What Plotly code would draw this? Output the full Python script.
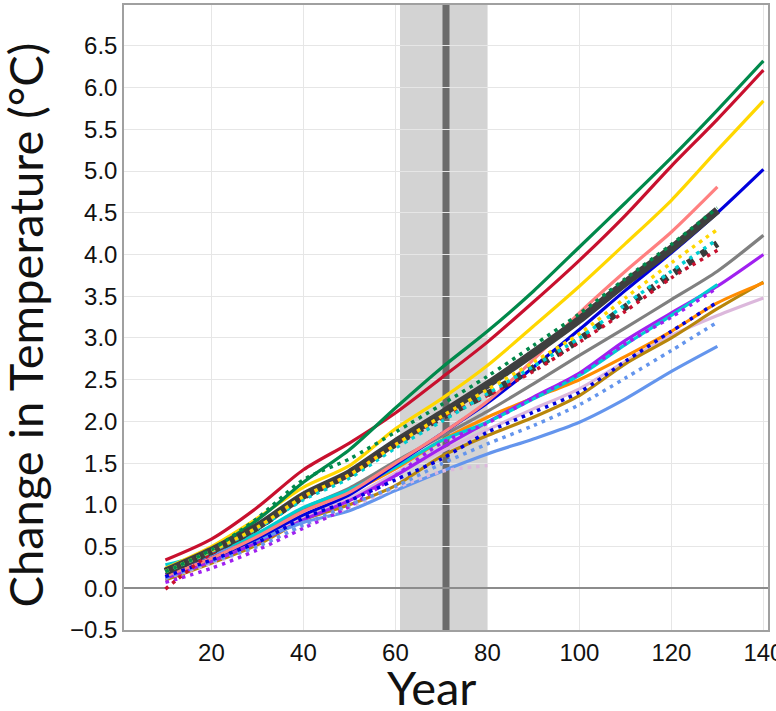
import plotly.graph_objects as go

years_140 = [10, 20, 30, 40, 50, 60, 70, 80, 90, 100, 110, 120, 130, 140]
years_130 = [10, 20, 30, 40, 50, 60, 70, 80, 90, 100, 110, 120, 130]
years_80 = [10, 20, 30, 40, 50, 60, 70, 80]

# solid series to year 140
green = [0.22, 0.47, 0.82, 1.27, 1.66, 2.16, 2.64, 3.08, 3.56, 4.09, 4.62, 5.16, 5.73, 6.32]
red = [0.34, 0.59, 0.97, 1.42, 1.74, 2.10, 2.52, 2.95, 3.43, 3.93, 4.47, 5.06, 5.62, 6.21]
gold = [0.24, 0.50, 0.84, 1.21, 1.47, 1.91, 2.27, 2.67, 3.14, 3.62, 4.13, 4.65, 5.25, 5.84]
blue = [0.16, 0.36, 0.60, 0.88, 1.12, 1.48, 1.85, 2.22, 2.65, 3.10, 3.57, 4.02, 4.50, 5.02]
gray = [0.14, 0.38, 0.64, 0.96, 1.20, 1.52, 1.82, 2.12, 2.45, 2.79, 3.12, 3.46, 3.80, 4.23]
purple = [0.12, 0.32, 0.55, 0.82, 1.05, 1.35, 1.68, 1.99, 2.29, 2.58, 2.97, 3.30, 3.62, 4.00]
orange = [0.16, 0.36, 0.60, 0.94, 1.15, 1.43, 1.77, 2.05, 2.28, 2.50, 2.78, 3.08, 3.42, 3.66]
goldenrod = [0.10, 0.30, 0.52, 0.82, 1.00, 1.23, 1.58, 1.83, 2.05, 2.31, 2.69, 3.00, 3.35, 3.67]
thistle = [0.15, 0.33, 0.56, 0.85, 1.08, 1.38, 1.64, 1.90, 2.15, 2.39, 2.72, 3.03, 3.27, 3.48]

# solid series to year 130
salmon = [0.15, 0.36, 0.62, 0.92, 1.15, 1.50, 1.85, 2.24, 2.74, 3.30, 3.80, 4.27, 4.81]
mean_solid = [0.20, 0.45, 0.74, 1.11, 1.38, 1.75, 2.09, 2.44, 2.82, 3.22, 3.66, 4.07, 4.53]
cyan = [0.28, 0.43, 0.66, 0.97, 1.18, 1.45, 1.77, 1.99, 2.27, 2.55, 2.92, 3.27, 3.64]
cornflower = [0.14, 0.40, 0.58, 0.79, 0.93, 1.17, 1.40, 1.61, 1.79, 1.99, 2.27, 2.60, 2.90]

# dotted series to year 130
green_dot = [0.20, 0.46, 0.84, 1.30, 1.55, 1.87, 2.20, 2.54, 2.91, 3.29, 3.71, 4.12, 4.56]
gold_dot = [0.20, 0.45, 0.73, 1.10, 1.36, 1.72, 2.06, 2.38, 2.71, 3.05, 3.48, 3.90, 4.30]
cyan_dot = [0.20, 0.44, 0.72, 1.06, 1.32, 1.68, 2.00, 2.33, 2.66, 3.00, 3.40, 3.80, 4.18]
mean_dot = [0.20, 0.44, 0.73, 1.10, 1.37, 1.73, 2.05, 2.33, 2.64, 2.98, 3.37, 3.76, 4.13]
red_dot = [-0.01, 0.42, 0.72, 1.09, 1.36, 1.72, 2.04, 2.31, 2.60, 2.95, 3.32, 3.72, 4.05]
blue_dot = [0.14, 0.34, 0.55, 0.84, 1.05, 1.30, 1.55, 1.87, 2.11, 2.35, 2.72, 3.08, 3.43]
cornflower_dot = [0.12, 0.32, 0.50, 0.76, 1.00, 1.22, 1.49, 1.73, 1.95, 2.20, 2.52, 2.85, 3.19]
purple_dot = [0.07, 0.24, 0.46, 0.72, 0.98, 1.35, 1.74, 1.98, 2.28, 2.57, 2.93, 3.25, 3.60]
thistle_dot = [0.12, 0.30, 0.50, 0.75, 0.97, 1.20, 1.40, 1.47]

y_ticks = [-0.5, 0.0, 0.5, 1.0, 1.5, 2.0, 2.5, 3.0, 3.5, 4.0, 4.5, 5.0, 5.5, 6.0, 6.5]
x_ticks = [20, 40, 60, 80, 100, 120, 140]

fig = go.Figure()

# TCR window and year-70 marker
fig.add_vrect(x0=61, x1=80, fillcolor="#d3d3d3", opacity=1, line_width=0, layer="below")
fig.add_vline(x=71, line_color="#6b6b6b", line_width=7, layer="below")

solid = [
    (years_140, thistle, "#dcb8dc"),
    (years_140, goldenrod, "#b8860b"),
    (years_140, orange, "#ff8c00"),
    (years_140, gray, "#808080"),
    (years_140, purple, "#a020f0"),
    (years_130, cyan, "#00ced1"),
    (years_130, cornflower, "#6495ed"),
    (years_140, blue, "#0000dd"),
    (years_130, salmon, "#ff8080"),
    (years_140, gold, "#ffd700"),
    (years_140, red, "#c8102e"),
    (years_140, green, "#00894b"),
]
for xs, ys, c in solid:
    fig.add_trace(go.Scatter(x=xs, y=ys, mode="lines",
                             line=dict(color=c, width=3.2, shape="spline", smoothing=0.8)))

fig.add_trace(go.Scatter(x=years_130, y=mean_solid, mode="lines",
                         line=dict(color="#3f3f3f", width=8, shape="spline", smoothing=0.8)))
fig.add_trace(go.Scatter(x=years_130, y=mean_dot, mode="lines",
                         line=dict(color="#3a3a3a", width=7, dash="7px,9px",
                                   shape="spline", smoothing=0.8)))

dotted = [
    (years_80, thistle_dot, "#dcb8dc"),
    (years_130, purple_dot, "#a020f0"),
    (years_130, cornflower_dot, "#6495ed"),
    (years_130, blue_dot, "#0000dd"),
    (years_130, red_dot, "#c8102e"),
    (years_130, cyan_dot, "#00ced1"),
    (years_130, gold_dot, "#ffd700"),
    (years_130, green_dot, "#00894b"),
]
for xs, ys, c in dotted:
    fig.add_trace(go.Scatter(x=xs, y=ys, mode="lines",
                             line=dict(color=c, width=3.5, dash="3.5px,5px",
                                       shape="spline", smoothing=0.8)))

tick_font = dict(family="Liberation Sans, Arial, sans-serif", size=24, color="#111")
title_font = dict(family="Lato, sans-serif", size=47, color="#111")

fig.update_layout(
    width=776, height=711,
    margin=dict(l=124, r=8, t=5, b=81),
    paper_bgcolor="white", plot_bgcolor="white",
    showlegend=False,
    xaxis=dict(range=[1, 141], tickvals=x_ticks, ticktext=[str(v) for v in x_ticks],
               tickfont=tick_font, showgrid=True, gridcolor="#e6e6e6", gridwidth=1,
               showline=True, linecolor="#a0a0a0", linewidth=1.5, mirror=True,
               zeroline=False, ticks="", automargin=False, ticklabeloverflow="allow"),
    yaxis=dict(range=[-0.5, 6.99], tickvals=y_ticks,
               ticktext=[f"{v:.1f}".replace("-", "\u2212") for v in y_ticks],
               tickfont=tick_font, showgrid=True, gridcolor="#e6e6e6", gridwidth=1,
               showline=True, linecolor="#a0a0a0", linewidth=1.5, mirror=True,
               zeroline=True, zerolinecolor="#8c8c8c", zerolinewidth=2, ticks="",
               automargin=False, ticklabeloverflow="allow"),
    annotations=[
        dict(text="Year", xref="paper", yref="paper", x=0.477, y=-0.043,
             xanchor="center", yanchor="top", showarrow=False, font=title_font),
        dict(text="Change in Temperature (°C)", xref="paper", yref="paper",
             x=-0.153, y=0.488, xanchor="center", yanchor="middle", textangle=-90,
             showarrow=False, font=title_font),
    ],
)

fig.write_html("out.html", config={"displayModeBar": False},
               post_script="document.body.style.margin='0px';document.body.style.overflow='hidden';")
